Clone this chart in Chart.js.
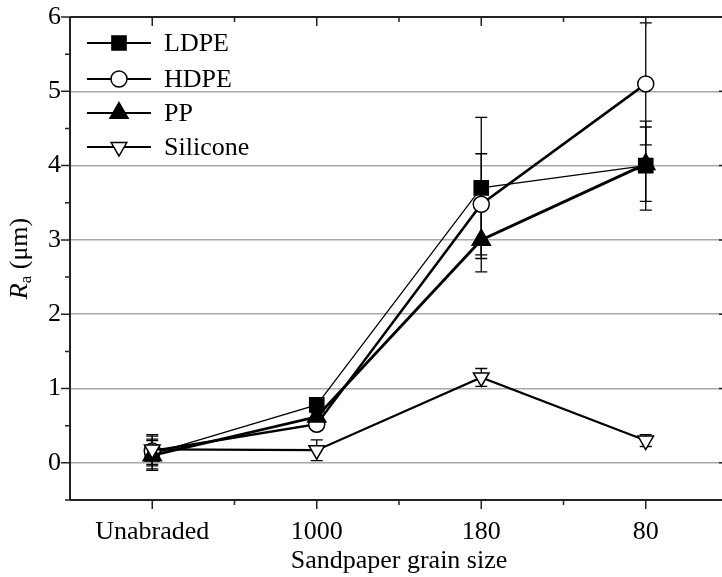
<!DOCTYPE html>
<html>
<head>
<meta charset="utf-8">
<script src="https://cdn.jsdelivr.net/npm/chart.js@4.4.1/dist/chart.umd.min.js"></script>
<style>
  html, body { margin: 0; padding: 0; background: #fff; overflow: hidden; }
  #wrap { width: 740px; height: 577px; }
</style>
</head>
<body>
<div id="wrap"><canvas id="myChart" width="740" height="577"></canvas></div>
<script>
const categories = ['Unabraded', '1000', '180', '80']

const ldpe = [0.12, 0.78, 3.70, 4.00]
const ldpeErr = [0.2, 0.05, 0.95, 0.6]
const hdpe = [0.16, 0.52, 3.48, 5.10]
const hdpeErr = [0.2, 0.05, 0.68, 0.82]
const pp = [0.10, 0.62, 3.00, 4.02]
const ppErr = [0.2, 0.05, 0.43, 0.5]
const silicone = [0.18, 0.17, 1.15, 0.30]
const siliconeErr = [0.2, 0.14, 0.12, 0.08]

const yTicks = [0, 1, 2, 3, 4, 5, 6]

const serif = '"Liberation Serif", "Times New Roman", serif'

function series(label, data, err, style, extra) {
  return Object.assign({
    label: label,
    data: data,
    err: err,
    borderColor: '#000',
    backgroundColor: '#000',
    pointStyle: style,
    pointBorderColor: '#000',
    pointBorderWidth: 1.5,
    pointRadius: 8,
    tension: 0
  }, extra)
}

const datasets = [
  series('Silicone', silicone, siliconeErr, 'triangle',
    { borderWidth: 2.2, pointBackgroundColor: '#fff', pointRotation: 180, pointRadius: 9 }),
  series('PP', pp, ppErr, 'triangle',
    { borderWidth: 2.8, pointBackgroundColor: '#000', pointRadius: 10.5 }),
  series('HDPE', hdpe, hdpeErr, 'circle',
    { borderWidth: 2.5, pointBackgroundColor: '#fff', pointRadius: 8 }),
  series('LDPE', ldpe, ldpeErr, 'rect',
    { borderWidth: 1.2, pointBackgroundColor: '#000', pointRadius: 10 })
]

// legend order as in the picture
const legendOrder = ['LDPE', 'HDPE', 'PP', 'Silicone']

const errorBars = {
  id: 'errorBars',
  beforeDatasetsDraw(chart) {
    const c = chart.ctx
    const y = chart.scales.y
    c.save()
    c.strokeStyle = '#000'
    c.lineWidth = 1.3
    chart.data.datasets.forEach((ds, i) => {
      const meta = chart.getDatasetMeta(i)
      meta.data.forEach((pt, j) => {
        const v = ds.data[j], e = ds.err[j]
        const top = y.getPixelForValue(v + e)
        const bot = y.getPixelForValue(v - e)
        c.beginPath()
        c.moveTo(pt.x, top); c.lineTo(pt.x, bot)
        c.moveTo(pt.x - 6, top); c.lineTo(pt.x + 6, top)
        c.moveTo(pt.x - 6, bot); c.lineTo(pt.x + 6, bot)
        c.stroke()
      })
    })
    c.restore()
  }
}

const frame = {
  id: 'frame',
  afterDraw(chart) {
    const c = chart.ctx
    const a = chart.chartArea
    const x = chart.scales.x
    const y = chart.scales.y
    c.save()
    c.strokeStyle = '#222'
    c.lineWidth = 2
    c.beginPath()
    c.moveTo(a.left, a.top); c.lineTo(a.right, a.top)
    c.moveTo(a.left, a.top); c.lineTo(a.left, a.bottom)
    c.moveTo(a.left, a.bottom); c.lineTo(a.right, a.bottom)
    c.moveTo(a.right, a.top); c.lineTo(a.right, a.bottom)
    c.stroke()
    c.lineWidth = 1.5
    c.beginPath()
    // y ticks, major on integers, minor on halves
    for (let v = -0.5; v <= 6.001; v += 0.5) {
      const py = y.getPixelForValue(v)
      const len = Number.isInteger(v) ? 9 : 5
      c.moveTo(a.left, py); c.lineTo(a.left - len, py)
      c.moveTo(a.right, py); c.lineTo(a.right - len, py)
    }
    // x ticks at categories and between them
    for (let k = 0; k < categories.length; k++) {
      const px = x.getPixelForValue(k)
      c.moveTo(px, a.bottom); c.lineTo(px, a.bottom + 9)
      c.moveTo(px, a.top); c.lineTo(px, a.top + 9)
      if (k < categories.length - 1) {
        const mx = (px + x.getPixelForValue(k + 1)) / 2
        c.moveTo(mx, a.bottom); c.lineTo(mx, a.bottom + 5)
        c.moveTo(mx, a.top); c.lineTo(mx, a.top + 5)
      }
    }
    c.stroke()

    // y axis title: R (italic) with subscript a, then (μm)
    c.translate(20, (a.top + a.bottom) / 2)
    c.rotate(-Math.PI / 2)
    c.fillStyle = '#000'
    c.textBaseline = 'middle'
    c.font = 'italic 26px ' + serif
    const r = c.measureText('R').width
    c.font = '17px ' + serif
    const s = c.measureText('a').width
    c.font = '26px ' + serif
    const rest = c.measureText(' (μm)').width
    let cx = -(r + s + rest) / 2
    c.font = 'italic 26px ' + serif
    c.fillText('R', cx, 0); cx += r
    c.font = '17px ' + serif
    c.fillText('a', cx, 7); cx += s
    c.font = '26px ' + serif
    c.fillText(' (μm)', cx, 0)
    c.restore()

    // legend: line - marker - line, then the label
    c.save()
    c.fillStyle = '#000'
    c.strokeStyle = '#000'
    c.font = '26px ' + serif
    c.textBaseline = 'middle'
    const rows = [43, 79, 113, 147]
    legendOrder.forEach((name, k) => {
      const ds = chart.data.datasets.find(d => d.label === name)
      const ly = rows[k]
      c.lineWidth = 2
      c.beginPath()
      c.moveTo(87, ly); c.lineTo(151, ly)
      c.stroke()
      c.lineWidth = 1.5
      c.fillStyle = ds.pointBackgroundColor
      Chart.helpers.drawPoint(c, {
        pointStyle: ds.pointStyle,
        rotation: ds.pointRotation || 0,
        radius: ds.pointRadius,
        borderWidth: 1.5
      }, 119, ly)
      c.fillStyle = '#000'
      c.fillText(name, 164, ly + 1)
    })
    c.restore()
  }
}

const ctx = document.getElementById('myChart')

new Chart(ctx, {
  type: 'line',
  data: {
    labels: categories,
    datasets: datasets
  },
  options: {
    responsive: false,
    animation: false,
    devicePixelRatio: 1,
    layout: { padding: { top: 0, right: 5, bottom: 0, left: 0 } },
    plugins: {
      legend: { display: false },
      tooltip: { enabled: false }
    },
    scales: {
      x: {
        type: 'category',
        offset: true,
        grid: { display: false, drawTicks: false },
        border: { display: false },
        ticks: { color: '#000', font: { family: serif, size: 26 }, padding: 17, maxRotation: 0 },
        title: {
          display: true,
          text: 'Sandpaper grain size',
          color: '#000',
          font: { family: serif, size: 26 },
          padding: { top: 0, bottom: 0 }
        },
        afterFit(scale) { scale.height = 77; scale.paddingLeft = 0; scale.paddingRight = 0 }
      },
      y: {
        min: -0.5,
        max: 6,
        afterBuildTicks(scale) {
          scale.ticks = yTicks.map(v => ({ value: v }))
        },
        grid: {
          drawTicks: false,
          lineWidth: 1.5,
          color: c => (c.tick && c.tick.value >= 0 && c.tick.value <= 5) ? '#a8a8a8' : 'rgba(0,0,0,0)'
        },
        border: { display: false },
        ticks: { color: '#000', font: { family: serif, size: 26 }, padding: 9 },
        afterFit(scale) { scale.width = 70; scale.paddingTop = 17; scale.paddingBottom = 0 }
      }
    }
  },
  plugins: [errorBars, frame]
})
</script>
</body>
</html>
